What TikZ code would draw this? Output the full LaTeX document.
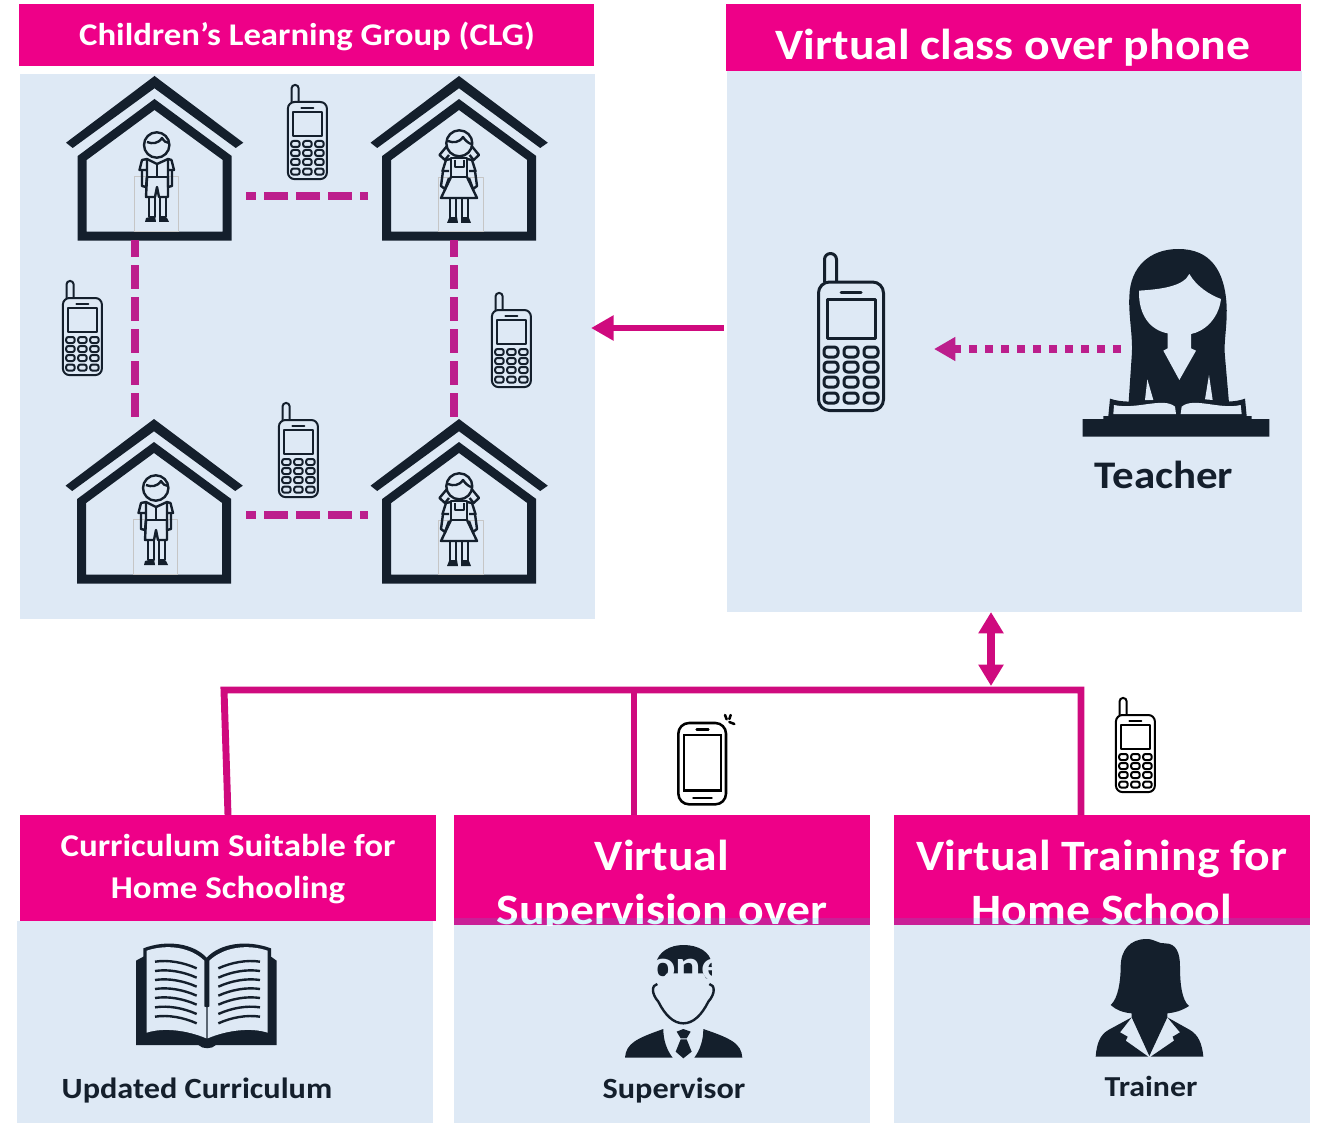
\documentclass[tikz,border=0pt]{standalone}
\usepackage{fontspec}
\setmainfont[FakeStretch=1.1]{Carlito}
\usetikzlibrary{arrows.meta,calc}
\definecolor{hdrpink}{HTML}{EE0088}
\definecolor{panelblue}{HTML}{DEE9F5}
\definecolor{inkdark}{HTML}{141F2C}
\definecolor{linkpink}{HTML}{CF0A7E}
\definecolor{dashpink}{HTML}{BC1E8C}
\definecolor{stripcyan}{HTML}{00D5F3}
\tikzset{
  hdrbox/.style={fill=hdrpink,draw=none},
  panelbox/.style={fill=panelblue,draw=none},
  iconbox/.style={draw=none},
  hdrtext/.style={text=white,anchor=base,inner sep=0pt,font=\bfseries},
  labeltext/.style={text=inkdark,anchor=base,inner sep=0pt,font=\bfseries},
  roomlink/.style={draw=dashpink,line width=6pt,dash pattern=on 18pt off 6pt},
  busline/.style={draw=linkpink,line width=5.2pt,line join=miter},
  solidarrow/.style={draw=linkpink,line width=4.5pt,-{Triangle[length=17pt,width=18pt]}},
  twoarrow/.style={draw=linkpink,line width=5.5pt,{Triangle[length=16pt,width=18pt]}-{Triangle[length=16pt,width=18pt]}},
  dotarrow/.style={draw=dashpink,line width=6pt,dash pattern=on 6pt off 6pt,-{Triangle[length=16pt,width=17pt]}},
}
% rectangle node from pixel corners: style, name, x1,y1,x2,y2
\newcommand\rectnode[6]{\node[#1,inner sep=0pt,outer sep=0pt,minimum width={(#5-#3)*0.75pt},minimum height={(#6-#4)*0.75pt}] (#2) at ({(#3+#5)/2},{(#4+#6)/2}) {};}
% phone icon: x,y,scale,colour,line width in px
\newcommand\phoneicon[5]{%
\begin{scope}[shift={(#1,#2)},scale=#3,draw=#4,line width=#5*0.75pt,line join=round]
  \draw[rounded corners={6*#3*0.75pt}] (7.5,30) -- (7.5,1.5) -- (19.5,1.5) -- (19.5,30);
  \draw[rounded corners={11*#3*0.75pt}] (1.5,30) rectangle (66.5,158.5);
  \draw (10,47) rectangle (58,86);
  \draw[line cap=round] (24,40) -- (44,40);
  \foreach \kx in {7,27,47}{\foreach \ky in {95,110,125,141}{
    \draw[rounded corners={3.5*#3*0.75pt}] (\kx,\ky) rectangle ++(14,10);}}
\end{scope}}
% house icon at offset
\newcommand\houseicon[2]{%
\begin{scope}[shift={(#1,#2)}]
  \fill[inkdark] (66,142.7) -- (154.5,76) -- (243.3,142.7) -- (235.7,148) -- (154.5,88.3) -- (72.7,148) -- cycle;
  \fill[inkdark,even odd rule] (77.7,156) -- (154.5,99) -- (231.7,156) -- (231.7,240.7) -- (77.7,240.7) -- cycle
     (86.7,160) -- (154.5,110) -- (222.7,160) -- (222.7,231.7) -- (86.7,231.7) -- cycle;
\end{scope}}
\newcommand\boyicon[2]{%
\begin{scope}[shift={(#1,#2)},draw=inkdark,line width=1.8pt,line join=round]
  \draw[draw=gray!45,line width=0.5pt] (134.3,176.7) rectangle (178.3,231.7);
  \draw (156.7,145) circle[radius=12.7];
  \draw (147,142) .. controls (152,144) and (158,144) .. (162,138) .. controls (164,141) and (166,143) .. (169,143);
  \draw (147,177) -- (147,159) -- (142,160) -- (139.5,170) -- (147,170);
  \draw (168,177) -- (168,159) -- (171.5,160) -- (174,170) -- (168,170);
  \draw (142,170) -- (142,186) -- (146,187) -- (147,177);
  \draw (172,170) -- (172,186) -- (168,187) -- (168,177);
  \draw (147,159) -- (157,164) -- (168,159);
  \draw (157,164) -- (157,177);
  \draw (147,177) -- (168,177);
  \draw (147,177) -- (146,197) -- (155,197) -- (157,187) -- (159,197) -- (168,197) -- (168,177);
  \draw (149,197) -- (149,217) -- (155,217) -- (155,197);
  \draw (160,197) -- (160,217) -- (166,217) -- (166,197);
  \fill[inkdark] (145,222) -- (146,218) -- (155,216) -- (156,222) -- cycle;
  \fill[inkdark] (159,222) -- (159,216) -- (167,218) -- (169,222) -- cycle;
\end{scope}}
\newcommand\girlicon[2]{%
\begin{scope}[shift={(#1,#2)},draw=inkdark,line width=1.8pt,line join=round]
  \draw[draw=gray!45,line width=0.5pt] (438.3,177) rectangle (483.3,231.7);
  \draw (459.3,143.3) circle[radius=13];
  \draw (448,141) .. controls (453,143) and (459,143) .. (463,137) .. controls (465,140) and (468,143) .. (471,144);
  \draw (447,146) -- (439.5,155) -- (445,160) -- (449,155);
  \draw (471.6,146) -- (479,155) -- (473.6,160) -- (469.6,155);
  \draw (451,159) -- (446,160) -- (442.5,171) -- (449,171);
  \draw (467,159) -- (472,160) -- (475.5,171) -- (469,171);
  \draw (443,171) -- (441,186) -- (445,189) -- (449,178);
  \draw (475,171) -- (477,186) -- (473,189) -- (469,178);
  \draw (451,158) rectangle (467,177);
  \draw (455,160) -- (455,167) -- (464,167) -- (464,160);
  \draw (451,177) -- (441,198) -- (477,198) -- (467,177);
  \draw (450,198) -- (450,218) -- (456,218) -- (456,198);
  \draw (462,198) -- (462,218) -- (468,218) -- (468,198);
  \fill[inkdark] (447,223) -- (449,218) -- (457,217) -- (458,223) -- cycle;
  \fill[inkdark] (461,223) -- (461,217) -- (469,218) -- (471,223) -- cycle;
\end{scope}}
\begin{document}
\begin{tikzpicture}[x=0.75pt,y=-0.75pt]
\useasboundingbox (0,0) rectangle (1319,1123);
% ---------- panels and headers
\rectnode{panelbox}{clgpanel}{20}{74}{595}{619}
\rectnode{hdrbox}{clghdr}{19}{4}{594}{66}
\rectnode{panelbox}{classpanel}{727}{71}{1302}{612}
\rectnode{hdrbox}{classhdr}{726}{4}{1301}{71}
\rectnode{panelbox}{curpanel}{17}{921}{433}{1123}
\rectnode{hdrbox}{curhdr}{20}{815}{436}{921}
\rectnode{panelbox}{suppanel}{454}{925}{870}{1123}
\rectnode{hdrbox}{suphdr}{454}{815}{870}{925}
\rectnode{panelbox}{trnpanel}{894}{925}{1310}{1123}
\rectnode{hdrbox}{trnhdr}{894}{815}{1310}{925}
% ---------- header text
\node[hdrtext,font=\bfseries\fontsize{23.7}{27}\selectfont] (clgtitle) at (307,46) {Children’s Learning Group (CLG)};
\node[hdrtext,font=\bfseries\fontsize{32.5}{36}\selectfont] (classtitle) at (1013,60) {Virtual class over phone};
\node[hdrtext,font=\bfseries\fontsize{23.8}{27}\selectfont] (curtitlea) at (228,856) {Curriculum Suitable for};
\node[hdrtext,font=\bfseries\fontsize{23.8}{27}\selectfont] (curtitleb) at (228,898) {Home Schooling};
\node[hdrtext,font=\bfseries\fontsize{32.5}{36}\selectfont] (suptitlea) at (662,870) {Virtual};
\node[hdrtext,font=\bfseries\fontsize{32.5}{36}\selectfont] (trntitlea) at (1102,870) {Virtual Training for};
\begin{scope}
  \clip (454,815) rectangle (1310,925);
  \node[hdrtext,font=\bfseries\fontsize{32.5}{36}\selectfont] (suptitleb) at (662,924) {Supervision over};
  \node[hdrtext,font=\bfseries\fontsize{32.5}{36}\selectfont] (trntitleb) at (1102,924) {Home School};
\end{scope}
\fill[stripcyan,opacity=0.15] (454,918) rectangle (870,925);
\fill[stripcyan,opacity=0.15] (894,918) rectangle (1310,925);
% ---------- houses
\houseicon{0}{0}\houseicon{304.5}{0}\houseicon{-0.5}{343}\houseicon{304.5}{343}
\boyicon{0}{0}\girlicon{0}{0}\boyicon{-1}{343}\girlicon{0}{343}
\rectnode{iconbox}{houseA}{65}{77}{243}{240}
\rectnode{iconbox}{houseB}{370}{77}{548}{240}
\rectnode{iconbox}{houseC}{65}{420}{243}{583}
\rectnode{iconbox}{houseD}{370}{420}{548}{583}
\draw[roomlink,dash phase=10.5pt,shorten <=2.25pt,shorten >=1.5pt] ([yshift=-37.5*0.75pt]houseA.east) -- ([yshift=-37.5*0.75pt]houseB.west);
\draw[roomlink,dash phase=10.5pt,shorten <=2.25pt,shorten >=1.5pt] ([yshift=-13.5*0.75pt]houseC.east) -- ([yshift=-13.5*0.75pt]houseD.west);
\draw[roomlink,dash phase=5.25pt] ([xshift=-19*0.75pt]houseA.south) -- ([xshift=-19*0.75pt,yshift=2.25pt]houseC.north);
\draw[roomlink,dash phase=5.25pt] ([xshift=-5*0.75pt]houseB.south) -- ([xshift=-5*0.75pt,yshift=2.25pt]houseD.north);
% ---------- phones
\phoneicon{287}{84}{0.6}{inkdark}{2}
\phoneicon{62}{280}{0.6}{inkdark}{2}
\phoneicon{491}{292}{0.6}{inkdark}{2}
\phoneicon{278}{402}{0.6}{inkdark}{2}
\phoneicon{1115}{697}{0.6}{black}{2}
\phoneicon{817}{252}{1}{inkdark}{3}
\rectnode{iconbox}{bigphone}{817}{252}{885}{412}
% ---------- teacher
\rectnode{iconbox}{teacher}{1083}{249}{1270}{437}
\begin{scope}[shift={(790,230)},scale=0.33333]
  \fill[inkdark] (1165,57) .. controls (1260,57) and (1305,120) .. (1310,230) .. controls (1312,290) and (1300,340) .. (1305,380) -- (1318,530) -- (1015,530) -- (1025,380) .. controls (1030,320) and (1015,260) .. (1018,200) .. controls (1020,110) and (1080,57) .. (1165,57) -- cycle;
  \fill[panelblue] (1047,182) .. controls (1110,178) and (1180,170) .. (1198,132) .. controls (1220,170) and (1260,195) .. (1293,207) .. controls (1285,270) and (1240,305) .. (1203,312) -- (1203,355) -- (1218,362) -- (1168,450) -- (1120,362) -- (1133,355) -- (1133,310) .. controls (1080,300) and (1045,255) .. (1047,182) -- cycle;
  \fill[panelblue] (1072,448) -- (1090,510) -- (1065,510) -- cycle;
  \fill[panelblue] (1257,435) -- (1268,510) -- (1245,508) -- cycle;
  \fill[inkdark] (960,506) .. controls (1030,530) and (1120,495) .. (1165,520) .. controls (1210,495) and (1300,530) .. (1365,506) -- (1370,558) -- (1385,558) -- (1385,567) -- (1438,567) -- (1438,620) -- (878,620) -- (878,567) -- (940,567) -- (940,558) -- (955,558) -- cycle;
  \fill[panelblue] (972,525) .. controls (1040,540) and (1120,500) .. (1155,530) -- (1158,552) -- (970,552) -- cycle;
  \fill[panelblue] (1175,530) .. controls (1210,500) and (1290,540) .. (1352,525) -- (1355,552) -- (1172,552) -- cycle;
\end{scope}
\node[labeltext,font=\bfseries\fontsize{29.3}{33}\selectfont] (teacherlabel) at (1164,488) {Teacher};
% ---------- book
\begin{scope}[shift={(110,920)},scale=0.33333]
  \fill[inkdark] (78,375) -- (78,122) -- (100,110) -- (100,85) .. controls (170,58) and (250,70) .. (290,113) .. controls (330,70) and (410,58) .. (483,85) -- (483,110) -- (500,122) -- (500,375) -- (318,375) .. controls (305,388) and (278,388) .. (265,375) -- cycle;
  \fill[panelblue] (110,92) .. controls (170,72) and (240,80) .. (283,122) -- (283,260) -- (289,262) -- (289,355) .. controls (230,330) and (160,322) .. (110,338) -- cycle;
  \fill[panelblue] (473,92) .. controls (413,72) and (343,80) .. (298,122) -- (298,260) -- (293,262) -- (293,355) .. controls (352,330) and (423,322) .. (473,338) -- cycle;
  \foreach \ly in {125,153,180,207,234,262,290}{
    \draw[inkdark,line width=1.8pt] (135,\ly) .. controls (175,{\ly-6}) and (220,{\ly+2}) .. (260,{\ly+20});
    \draw[inkdark,line width=1.8pt] (325,{\ly+20}) .. controls (365,{\ly+2}) and (410,{\ly-6}) .. (450,\ly);
  }
\end{scope}
\node[labeltext,font=\bfseries\fontsize{22}{26}\selectfont] (curlabel) at (197,1098) {Updated Curriculum};
% ---------- supervisor
\begin{scope}[shift={(450,810)},scale=0.33333]
  \fill[inkdark] (618,460) .. controls (625,425) and (660,405) .. (700,405) .. controls (745,405) and (780,425) .. (785,460) -- (786,505) -- (768,505) -- (760,490) -- (650,490) -- (638,505) -- (625,505) -- cycle;
  \draw[inkdark,line width=1.8pt] (622,522) .. controls (605,525) and (603,550) .. (625,575) .. controls (645,615) and (670,640) .. (700,640) .. controls (730,640) and (755,615) .. (775,575) .. controls (797,550) and (795,525) .. (778,522);
  \fill[inkdark] (525,743) .. controls (528,700) and (560,685) .. (640,657) .. controls (640,690) and (650,720) .. (668,743) -- cycle;
  \fill[inkdark] (877,743) .. controls (874,700) and (842,685) .. (760,657) .. controls (760,690) and (750,720) .. (733,743) -- cycle;
  \fill[inkdark] (680,665) -- (700,657) -- (722,665) -- (710,685) -- (692,685) -- cycle;
  \fill[inkdark] (692,688) -- (710,688) -- (725,725) -- (700,745) -- (677,725) -- cycle;
\end{scope}
\node[hdrtext,text=panelblue,font=\bfseries\fontsize{32.5}{36}\selectfont] (suptitlec) at (662,980) {phone};
\node[labeltext,font=\bfseries\fontsize{22}{26}\selectfont] (suplabel) at (674,1098) {Supervisor};
% ---------- trainer
\begin{scope}[shift={(1080,690)},scale=0.33333]
  \fill[inkdark] (200,747) .. controls (225,747) and (235,762) .. (255,760) .. controls (290,760) and (300,790) .. (300,830) .. controls (300,880) and (305,930) .. (327,948) .. controls (305,962) and (285,968) .. (262,970) -- (262,982) -- (208,1098) -- (155,982) -- (155,970) .. controls (130,968) and (108,960) .. (92,945) .. controls (115,925) and (122,870) .. (122,830) .. controls (122,780) and (150,747) .. (200,747) -- cycle;
  \fill[inkdark] (47,1100) .. controls (50,1060) and (60,1035) .. (85,1020) -- (155,982) -- (120,1027) -- (143,1040) -- (137,1052) -- (205,1100) -- cycle;
  \fill[inkdark] (370,1100) .. controls (366,1060) and (355,1035) .. (330,1020) -- (262,982) -- (300,1027) -- (278,1040) -- (282,1052) -- (212,1100) -- cycle;
\end{scope}
\node[labeltext,font=\bfseries\fontsize{21.7}{25}\selectfont] (trnlabel) at (1151,1096) {Trainer};
% ---------- smartphone
\begin{scope}[shift={(660,700)},scale=0.33333,draw=black,line width=1.9pt]
  \draw[rounded corners=8pt] (55,69) rectangle (198,313);
  \draw (72,105) rectangle (183,272);
  \draw[line cap=round] (110,88) -- (145,88);
  \draw[line cap=round] (100,294) -- (155,294);
  \draw[line cap=round] (195,45) -- (200,58);
  \draw[line cap=round] (212,45) -- (208,57);
  \draw[line cap=round] (208,66) -- (223,72);
\end{scope}
% ---------- connectors
\coordinate (busleft) at (224,690);
\coordinate (busright) at (1081,690);
\coordinate (busmid) at (634,690);
\coordinate (busport) at (991,686);
\draw[busline] (curhdr.north) -- (busleft) -- (busright) -- (busright |- trnhdr.north);
\draw[busline] (busmid) -- (busmid |- suphdr.north);
\draw[twoarrow] (busport |- classpanel.south) -- (busport);
\draw[solidarrow,shorten <=2.25pt,shorten >=-3pt] ([yshift=13.5*0.75pt]classpanel.west) -- ([yshift=18.5*0.75pt]clgpanel.east);
\draw[dotarrow,shorten <=-28.5pt,shorten >=36.75pt] ([yshift=-6*0.75pt]teacher.west) -- ([yshift=-17*0.75pt]bigphone.east);
\end{tikzpicture}
\end{document}
